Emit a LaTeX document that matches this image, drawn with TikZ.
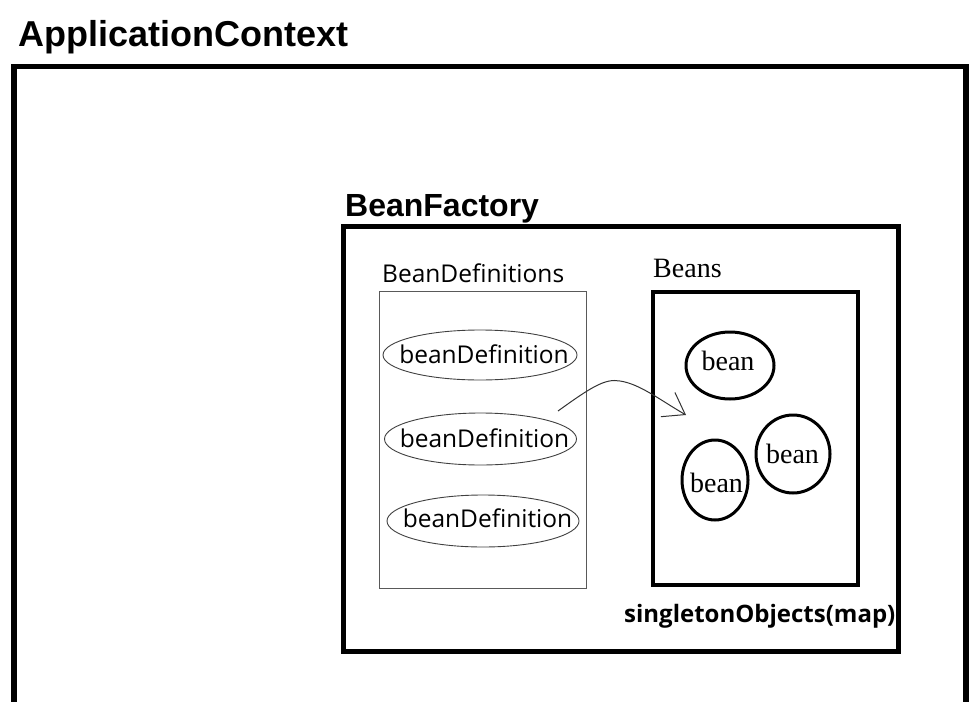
\documentclass[tikz,border=0pt]{standalone}
\usepackage{fontspec}
\usepackage{xcolor}
\usepackage{tikz}
\usetikzlibrary{arrows.meta}
\newfontfamily\arialfont{Liberation Sans}
\newfontfamily\yaheifont{Open Sans}
\newfontfamily\songfont{Liberation Serif}

\begin{document}
\begin{tikzpicture}[x=1pt, y=-1pt,
    heading/.style={anchor=base west, inner sep=0pt},
    defring/.style={draw=black!75, line width=0.9pt},
    deftext/.style={anchor=base, inner sep=0pt, font=\yaheifont\fontsize{24.5}{28}\selectfont},
    beanring/.style={draw, line width=3pt},
    beantext/.style={anchor=base, inner sep=0pt, font=\songfont\fontsize{28}{32}\selectfont}]
  \useasboundingbox (0,0) rectangle (979,701);

  % Frames
  \draw[line width=5.5pt] (14,712) -- (14,66.5) -- (966,66.5) -- (966,712);
  \draw[line width=5pt] (343,226.5) rectangle (898.5,651.5);
  \draw[black!65, line width=1pt] (379,291) rectangle (586,588);
  \draw[line width=3.3pt] (653,292) rectangle (858,585);

  % Labels
  \node[heading, font=\arialfont\bfseries\fontsize{36}{40}\selectfont] (appctx) at (18,47) {ApplicationContext};
  \node[heading, font=\arialfont\bfseries\fontsize{32}{36}\selectfont] (factory) at (345,216) {BeanFactory};
  \node[heading, font=\yaheifont\fontsize{24.5}{28}\selectfont] (defslabel) at (382,282) {BeanDefinitions};
  \node[heading, font=\songfont\fontsize{28}{32}\selectfont] (beanslabel) at (653,277) {Beans};
  \node[heading, font=\yaheifont\bfseries\fontsize{24}{28}\selectfont] (mapslabel) at (624,622) {singletonObjects(map)};

  % Bean definitions
  \draw[defring] (480,355) ellipse [x radius=97pt, y radius=25pt];
  \node[deftext] (def1) at (484,363) {beanDefinition};
  \draw[defring] (480.5,439) ellipse [x radius=96pt, y radius=26pt];
  \node[deftext] (def2) at (484.5,447) {beanDefinition};
  \draw[defring] (483,521) ellipse [x radius=96pt, y radius=26pt];
  \node[deftext] (def3) at (487.5,527) {beanDefinition};

  % Beans
  \draw[beanring] (730,365.5) ellipse [x radius=44pt, y radius=33.5pt];
  \node[beantext] (bean1) at (728,370) {bean};
  \draw[beanring] (793,454) ellipse [x radius=37pt, y radius=39pt];
  \node[beantext] (bean2) at (792.5,463) {bean};
  \draw[beanring] (715,480) ellipse [x radius=33pt, y radius=40pt];
  \node[beantext] (bean3) at (716.5,492) {bean};

  % Arrow
  \coordinate (arrowstart) at (558,411);
  \coordinate (arrowend) at (686,415);
  \draw[black!80, line width=1pt, -{Straight Barb[length=20pt, width=28pt]}]
    (arrowstart) .. controls (590,388) and (605,378) .. (620,381)
    .. controls (640,384) and (660,400) .. (arrowend);
\end{tikzpicture}
\end{document}
